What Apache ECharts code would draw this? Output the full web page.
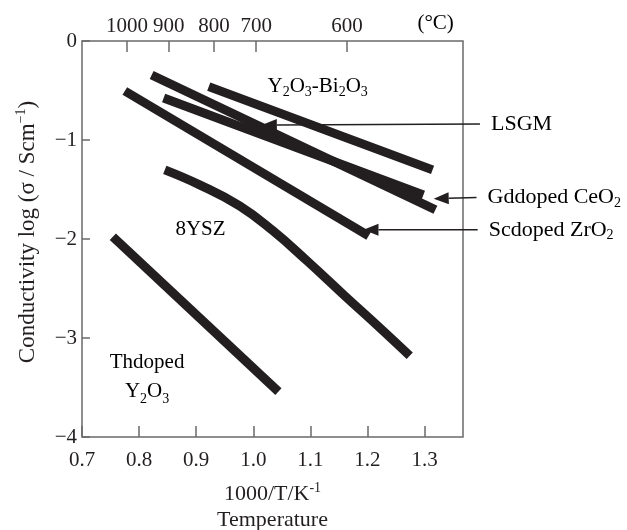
<!DOCTYPE html>
<html>
<head>
<meta charset="utf-8">
<script src="https://cdn.jsdelivr.net/npm/echarts@6/dist/echarts.min.js"></script>
<style>
  html, body { margin: 0; padding: 0; background: #ffffff; }
  #chart { width: 627px; height: 530px; }
</style>
</head>
<body>
<div id="chart"></div>
<script>
// Ionic conductivity of solid electrolytes: log10(sigma / S cm^-1) against 1000/T (K^-1)
const bi2o3X = [0.922, 1.314];
const bi2o3Y = [-0.461, -1.302];
const lsgmX = [0.822, 1.319];
const lsgmY = [-0.343, -1.705];
const gdcX = [0.843, 1.298];
const gdcY = [-0.575, -1.554];
const sczX = [0.775, 1.202];
const sczY = [-0.505, -1.968];
const ysz8X = [0.845, 0.906, 0.976, 1.034, 1.094, 1.160, 1.2215, 1.274];
const ysz8Y = [-1.302, -1.453, -1.665, -1.915, -2.220, -2.573, -2.896, -3.179];
const thY2o3X = [0.754, 1.044];
const thY2o3Y = [-1.978, -3.542];

// secondary (top) scale: temperature in degrees Celsius
const tempLabels = ['1000', '900', '800', '700', '600'];
const tempPositions = [0.779, 0.852, 0.931, 1.005, 1.164];

const ink = '#231f20';
const axisColor = '#6a6a6a';
const serif = 'Liberation Serif';

function richSet(size, lineH) {
  return {
    n: { fontFamily: serif, fontSize: size, color: ink, lineHeight: lineH, verticalAlign: 'middle' },
    sub: { fontFamily: serif, fontSize: 14, color: ink, lineHeight: 14, verticalAlign: 'bottom' },
    sup: { fontFamily: serif, fontSize: 14, color: ink, lineHeight: 14, verticalAlign: 'top' }
  };
}
const rich = richSet(22, 26);
const richYName = richSet(23, 27);
const richLabel = richSet(21, 26);
const richTwoLine = richSet(21, 29);

function pts(xs, ys) { return xs.map((x, i) => [x, ys[i]]); }

function curve(name, xs, ys, smooth) {
  return {
    type: 'line', name: name, data: pts(xs, ys),
    showSymbol: false, symbol: 'none', smooth: smooth || false,
    lineStyle: { width: 9, color: ink, cap: 'butt' },
    z: 3
  };
}

const chart = echarts.init(document.getElementById('chart'), null, { renderer: 'canvas' });

// short inward ticks along the top edge at the temperature marks
const tempTicks = {
  type: 'line', name: 'temperature ticks', data: [], silent: true, z: 4,
  markLine: {
    silent: true, symbol: ['none', 'none'], animation: false,
    label: { show: false },
    lineStyle: { color: axisColor, width: 1.5, type: 'solid' },
    emphasis: { disabled: true },
    data: tempPositions.map(p => [{ coord: [p, 0] }, { coord: [p, -0.111] }])
  }
};

const option = {
  animation: false,
  backgroundColor: '#ffffff',
  grid: {
    left: 82, right: 164, top: 41, bottom: 93,
    show: true, borderColor: axisColor, borderWidth: 1.5,
    containLabel: false, outerBoundsMode: 'none'
  },
  xAxis: [
    {
      type: 'value', position: 'bottom', min: 0.7, max: 1.3673, interval: 0.1,
      axisLine: { show: false, onZero: false },
      axisTick: { inside: true, length: 11, lineStyle: { color: axisColor, width: 1.5 } },
      axisLabel: {
        margin: 13, fontFamily: serif, fontSize: 21, color: ink,
        showMaxLabel: false, formatter: v => v.toFixed(1)
      },
      splitLine: { show: false },
      name: '{n|1000/T/K}{sup|-1}\n{n|Temperature}',
      nameLocation: 'middle', nameGap: 44,
      nameTextStyle: { rich: rich }
    },
    {
      type: 'value', position: 'top', min: 0.7, max: 1.3673,
      axisLine: { show: false, onZero: false },
      axisTick: { show: false, length: 0 },
      minorTick: { show: false },
      axisLabel: {
        customValues: tempPositions, interval: 0, margin: 4,
        fontFamily: serif, fontSize: 21, color: ink,
        formatter: v => {
          const i = tempPositions.findIndex(p => Math.abs(p - v) < 1e-6);
          return i >= 0 ? tempLabels[i] : '';
        }
      },
      splitLine: { show: false }
    }
  ],
  yAxis: {
    type: 'value', min: -4, max: 0, interval: 1,
    axisLine: { show: false, onZero: false },
    axisTick: { inside: true, length: 8, lineStyle: { color: axisColor, width: 1.5 } },
    axisLabel: {
      margin: 5, fontFamily: serif, fontSize: 21, color: ink,
      formatter: v => (v < 0 ? '\u2212' + Math.abs(v) : String(v))
    },
    splitLine: { show: false },
    name: '{n|Conductivity log (\u03c3 / Scm}{sup|\u22121}{n|)}',
    nameLocation: 'middle', nameGap: 41, nameRotate: 90,
    nameTextStyle: { rich: richYName, padding: [0, 0, 0, 14] }
  },
  series: [
    curve('Y2O3-Bi2O3', bi2o3X, bi2o3Y),
    curve('LSGM', lsgmX, lsgmY),
    curve('Gd-doped CeO2', gdcX, gdcY),
    curve('Sc-doped ZrO2', sczX, sczY),
    curve('8YSZ', ysz8X, ysz8Y, 0.45),
    curve('Th-doped Y2O3', thY2o3X, thY2o3Y),
    tempTicks
  ]
};

chart.setOption(option);

// annotations anchored in data coordinates
const toPx = (p) => chart.convertToPixel({ xAxisIndex: 0, yAxisIndex: 0 }, p);

const callouts = [
  { text: '{n|LSGM}', tip: [1.015, -0.848], tail: [1.397, -0.838] },
  { text: '{n|Gddoped CeO}{sub|2}', tip: [1.316, -1.594], tail: [1.391, -1.581] },
  { text: '{n|Scdoped ZrO}{sub|2}', tip: [1.193, -1.907], tail: [1.393, -1.907] }
];

const inPlotLabels = [
  { text: '{n|Y}{sub|2}{n|O}{sub|3}{n|-Bi}{sub|2}{n|O}{sub|3}', at: [1.1128, -0.461], style: richLabel },
  { text: '{n|8YSZ}', at: [0.9076, -1.907], style: richLabel },
  { text: '{n|Thdoped}\n{n|Y}{sub|2}{n|O}{sub|3}', at: [0.814, -3.395], style: richTwoLine }
];

const graphics = [];
const headLen = 15, headHalf = 6;

callouts.forEach(c => {
  const t = toPx(c.tip), s = toPx(c.tail);
  const dx = t[0] - s[0], dy = t[1] - s[1];
  const len = Math.hypot(dx, dy);
  const ux = dx / len, uy = dy / len;
  const bx = t[0] - ux * headLen, by = t[1] - uy * headLen;
  graphics.push({
    type: 'line', z: 10,
    shape: { x1: s[0], y1: s[1], x2: bx, y2: by },
    style: { stroke: ink, lineWidth: 1.5 }
  });
  graphics.push({
    type: 'polygon', z: 10,
    shape: { points: [[t[0], t[1]], [bx - uy * headHalf, by + ux * headHalf], [bx + uy * headHalf, by - ux * headHalf]] },
    style: { fill: ink }
  });
  graphics.push({
    type: 'text', z: 10, x: s[0] + 11, y: s[1],
    style: { text: c.text, rich: rich, align: 'left', verticalAlign: 'middle' }
  });
});

inPlotLabels.forEach(l => {
  const p = toPx(l.at);
  graphics.push({
    type: 'text', z: 10, x: p[0], y: p[1],
    style: { text: l.text, rich: l.style, align: 'center', verticalAlign: 'middle' }
  });
});

// unit of the top scale
const unitPos = toPx([1.3194, 0]);
graphics.push({
  type: 'text', z: 10, x: unitPos[0], y: unitPos[1] - 18,
  style: { text: '{n|(\u00b0C)}', rich: richLabel, align: 'center', verticalAlign: 'middle' }
});

chart.setOption({ graphic: graphics });
</script>
</body>
</html>
